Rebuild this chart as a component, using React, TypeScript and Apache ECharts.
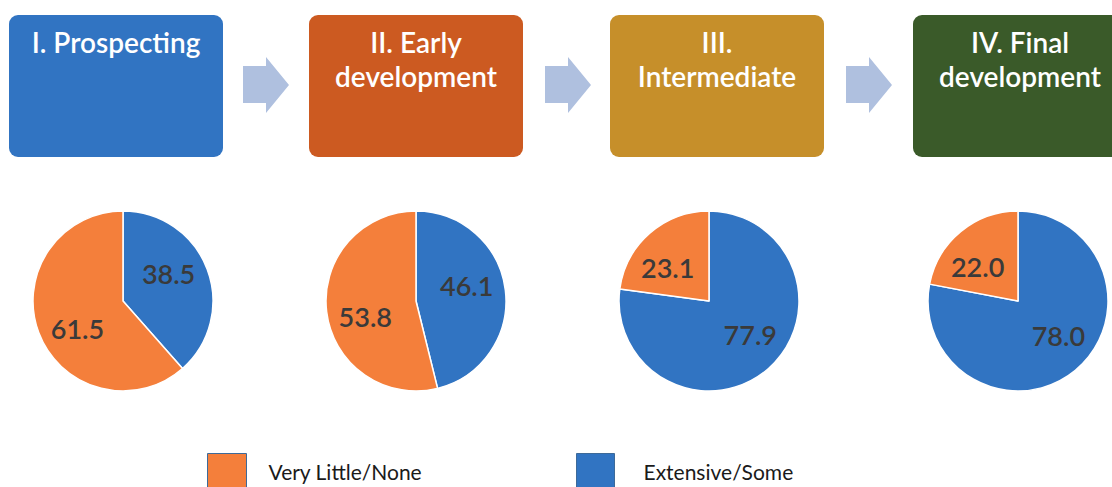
import React, { useEffect, useRef } from "react";
import * as echarts from "echarts";

const stageTitles = ["I. Prospecting", "II. Early\ndevelopment", "III.\nIntermediate", "IV. Final\ndevelopment"];
const stageColors = ["#3174C2", "#CC5A21", "#C68F2A", "#3A5A29"];
const categories = ["Extensive/Some", "Very Little/None"];
const legendOrder = ["Very Little/None", "Extensive/Some"];
const extensiveSome = [38.5, 46.1, 77.9, 78.0];
const veryLittleNone = [61.5, 53.8, 23.1, 22.0];
const sliceColors = ["#3174C2", "#F47F3B"];

const FONT = "Lato, 'Open Sans', sans-serif";

export default function App() {
  const ref = useRef<HTMLDivElement>(null);
  useEffect(() => {
    if (!ref.current) return;
    const chart = echarts.init(ref.current, null, { renderer: "svg" });
    const boxLefts = [9, 309, 610, 913];
    const boxW = 214;
    const pieCentersX = [123, 416, 709, 1018];
    const pieCy = 301;
    const arrowLefts = [243, 545, 846];

    const graphics: any[] = [];
    stageTitles.forEach((t, i) => {
      graphics.push({
        type: "rect",
        shape: { x: boxLefts[i], y: 15, width: boxW, height: 142, r: 9 },
        style: { fill: stageColors[i] },
        silent: true,
      });
      graphics.push({
        type: "text",
        x: boxLefts[i] + boxW / 2,
        y: 25,
        style: {
          text: t,
          fill: "#ffffff",
          fontSize: 28,
          fontWeight: 600,
          fontFamily: FONT,
          lineHeight: 34,
          align: "center",
          verticalAlign: "top",
        },
        silent: true,
      });
    });
    arrowLefts.forEach((x) => {
      graphics.push({
        type: "polygon",
        shape: {
          points: [
            [x, 66],
            [x + 23, 66],
            [x + 23, 57],
            [x + 46, 85],
            [x + 23, 113],
            [x + 23, 103],
            [x, 103],
          ],
        },
        style: { fill: "#AFC0DF" },
        silent: true,
      });
    });

    const series: any[] = [];
    pieCentersX.forEach((cx, i) => {
      const data = [
        { name: categories[0], value: extensiveSome[i], itemStyle: { color: sliceColors[0] } },
        { name: categories[1], value: veryLittleNone[i], itemStyle: { color: sliceColors[1] } },
      ];
      series.push({
        type: "pie",
        center: [cx, pieCy],
        radius: 90,
        startAngle: 90,
        clockwise: true,
        label: { show: false },
        labelLine: { show: false },
        itemStyle: { borderColor: "#ffffff", borderWidth: 1.5 },
        emphasis: { disabled: true },
        data,
      });
      // label layer (transparent), slightly larger radius so labels sit at ~0.55r
      series.push({
        type: "pie",
        center: [cx, pieCy],
        radius: 100,
        startAngle: 100,
        clockwise: true,
        silent: true,
        legendHoverLink: false,
        itemStyle: { color: "rgba(0,0,0,0)", borderWidth: 0 },
        label: {
          show: true,
          position: "inside",
          color: "#3a3a3a",
          fontSize: 27,
          fontWeight: 600,
          fontFamily: FONT,
          formatter: (p: any) => Number(p.value).toFixed(1),
        },
        labelLine: { show: false },
        emphasis: { disabled: true },
        data: data.map((d) => ({ name: d.name, value: d.value, itemStyle: { color: "rgba(0,0,0,0)" } })),
      });
    });

    chart.setOption({
      animation: false,
      backgroundColor: "#ffffff",
      color: sliceColors,
      legend: [
        {
          data: [{ name: legendOrder[0], itemStyle: { color: sliceColors[1] } }],
          left: 207,
          top: 453,
          icon: "rect",
          itemWidth: 39,
          itemHeight: 36,
          padding: 0,
          selectedMode: false,
          itemStyle: { borderColor: "#3D6A99", borderWidth: 1 },
          textStyle: { fontSize: 21, fontFamily: FONT, color: "#1a1a1a", padding: [0, 0, 0, 17] },
        },
        {
          data: [{ name: legendOrder[1], itemStyle: { color: sliceColors[0] } }],
          left: 576,
          top: 453,
          icon: "rect",
          itemWidth: 38,
          itemHeight: 36,
          padding: 0,
          selectedMode: false,
          itemStyle: { borderColor: "#3D6A99", borderWidth: 1 },
          textStyle: { fontSize: 21, fontFamily: FONT, color: "#1a1a1a", padding: [0, 0, 0, 24] },
        },
      ],
      graphic: graphics,
      series,
    });
    return () => chart.dispose();
  }, []);
  return (
    <div
      ref={ref}
      style={{ position: "fixed", left: 0, top: 0, width: 1112, height: 487, background: "#fff" }}
    />
  );
}
